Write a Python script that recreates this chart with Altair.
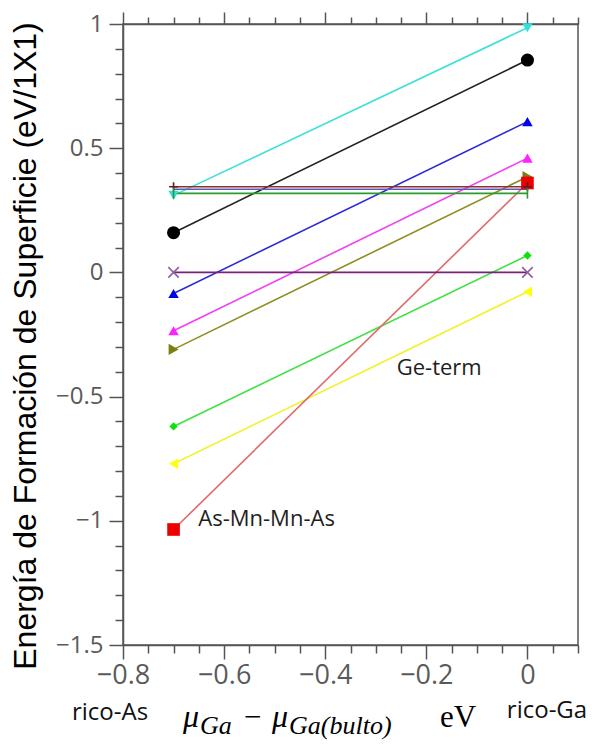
import altair as alt
import pandas as pd

# Chemical potential at the two limits (As-rich, Ga-rich)
mu_limits = [-0.7, 0.0]

# Surface formation energy (eV/1x1) of each reconstruction at both limits
series = ["S01", "S02", "S03", "S04", "S05", "S06", "S07", "S08", "S09", "S10", "S11", "S12"]
e_rico_as = [0.31, 0.16, -0.085, -0.235, -0.31, -0.62, -0.77, -1.035, 0.0, 0.345, 0.335, 0.318]
e_rico_ga = [0.985, 0.855, 0.607, 0.46, 0.385, 0.068, -0.078, 0.36, 0.0, 0.345, 0.335, 0.318]

line_colors = ["#3ee0d8", "#222222", "#2a2ad8", "#f040f0", "#8e8e20", "#40e040", "#f2f230",
               "#e06a6a", "#7a1f7a", "#8b3030", "#5a5ab8", "#2e9a2e"]
marker_colors = ["#30e0e0", "#000000", "#0000e8", "#ff20ff", "#7d7d10", "#10e010", "#ffff10",
                 "#ee0000", "#9060a0", "#5a2020", "#5a5ab8", "#2e9a2e"]
shapes = ["triangle-down", "circle", "triangle-up", "triangle-up", "triangle-right", "diamond",
          "triangle-left", "square", "x", "plus", "none", "vtick"]
marker_sizes = [110, 170, 110, 110, 130, 70, 110, 160, 110, 80, 0, 110]

# Free-text annotations inside the plot (data coordinates)
note_text = ["Ge-term", "As-Mn-Mn-As"]
note_x = [-0.1745, -0.516]
note_y = [-0.385, -0.994]

STROKE_PATHS = {
    "x": "M-1,-1L1,1M-1,1L1,-1",
    "plus": "M-1,0L1,0M0,-1L0,1",
    "vtick": "M0,-1L0,1",
}

rows = []
for i, name in enumerate(series):
    for mu, e in zip(mu_limits, [e_rico_as[i], e_rico_ga[i]]):
        rows.append({"serie": name, "mu": mu, "e": e, "lc": line_colors[i], "mc": marker_colors[i],
                     "shape": shapes[i], "sz": marker_sizes[i], "orden": i})
df = pd.DataFrame(rows)
filled = df[df["shape"].isin(["circle", "square", "diamond", "triangle-up", "triangle-down",
                              "triangle-left", "triangle-right"])]
stroked = df[df["shape"].isin(list(STROKE_PATHS))].copy()
stroked["path"] = stroked["shape"].map(STROKE_PATHS)

W, H = 455, 621
PAD_L, PAD_T = 123, 24
AXIS_COLOR = "#555555"
LABEL_COLOR = "#5a5a5a"

x_ticks = [round(-0.8 + 0.05 * k, 2) for k in range(19)]
y_ticks = [round(-1.5 + 0.1 * k, 1) for k in range(26)]

major_x = "abs(datum.value * 5 - round(datum.value * 5)) < 1e-6"
major_y = "abs(datum.value * 2 - round(datum.value * 2)) < 1e-6"

x_scale = alt.Scale(domain=[-0.8, 0.1], nice=False, zero=False)
y_scale = alt.Scale(domain=[-1.5, 1.0], nice=False, zero=False)

x_axis_bottom = alt.Axis(
    values=x_ticks, title=None, grid=False, orient="bottom",
    labelExpr=f"{major_x} ? format(datum.value, '.1~f') : ''",
    tickSize={"condition": {"test": major_x, "value": 14}, "value": 8},
    tickColor=AXIS_COLOR, tickWidth=1.5, domainColor=AXIS_COLOR, domainWidth=1.5,
    labelFont="Open Sans", labelFontSize=27, labelColor=LABEL_COLOR, labelPadding=3,
    labelFlush=False, labelOverlap=False,
)
x_axis_top = alt.Axis(
    values=x_ticks, title=None, grid=False, orient="top", labels=False,
    tickSize={"condition": {"test": major_x, "value": 12}, "value": 7},
    tickColor=AXIS_COLOR, tickWidth=1.5, domainColor=AXIS_COLOR, domainWidth=1.5,
)
y_axis = alt.Axis(
    values=y_ticks, title=None, grid=False, orient="left",
    labelExpr=f"{major_y} ? format(datum.value, '.1~f') : ''",
    tickSize={"condition": {"test": major_y, "value": 14}, "value": 8},
    tickColor=AXIS_COLOR, tickWidth=1.5, domainColor=AXIS_COLOR, domainWidth=1.5,
    labelFont="Open Sans", labelFontSize=24, labelColor=LABEL_COLOR, labelPadding=6,
    labelFlush=False, labelOverlap=False,
)

base = alt.Chart(df)

lines = base.mark_line(strokeWidth=1.6).encode(
    x=alt.X("mu:Q", scale=x_scale, axis=x_axis_bottom),
    y=alt.Y("e:Q", scale=y_scale, axis=y_axis),
    detail="serie:N",
    color=alt.Color("lc:N", scale=None),
    order="mu:Q",
)

filled_pts = alt.Chart(filled).mark_point(filled=True, opacity=1).encode(
    x=alt.X("mu:Q", scale=x_scale, axis=None),
    y=alt.Y("e:Q", scale=y_scale, axis=None),
    shape=alt.Shape("shape:N", scale=None),
    size=alt.Size("sz:Q", scale=None),
    color=alt.Color("mc:N", scale=None),
)

stroked_pts = alt.Chart(stroked).mark_point(filled=False, opacity=1, strokeWidth=1.6).encode(
    x=alt.X("mu:Q", scale=x_scale, axis=x_axis_top),
    y=alt.Y("e:Q", scale=y_scale, axis=None),
    shape=alt.Shape("path:N", scale=None),
    size=alt.Size("sz:Q", scale=None),
    color=alt.Color("mc:N", scale=None),
)

notes = alt.Chart(pd.DataFrame({"t": note_text, "x": note_x, "y": note_y})).mark_text(
    font="Open Sans", fontSize=22, color="#1e1e1e", align="center", baseline="middle"
).encode(
    x=alt.X("x:Q", scale=x_scale, axis=None),
    y=alt.Y("y:Q", scale=y_scale, axis=None),
    text="t:N",
)

# Texts placed around the frame (pixel positions relative to the plot origin)
side_labels = pd.DataFrame({
    "t": ["rico-As", "rico-Ga"],
    "px": [110 - PAD_L, 547 - PAD_L],
    "py": [713 - PAD_T, 711 - PAD_T],
})
side = alt.Chart(side_labels).mark_text(
    font="Open Sans", fontSize=24, color="#111111", align="center", baseline="middle"
).encode(
    x=alt.X("px:Q", scale=None, axis=None), y=alt.Y("py:Q", scale=None, axis=None), text="t:N"
)

y_title = alt.Chart(pd.DataFrame({"t": ["Energía de Formación de Superficie (eV/1X1)"]})).mark_text(
    font="Liberation Sans", fontSize=32, color="#000000", angle=270,
    align="center", baseline="middle"
).encode(
    x=alt.value(26 - PAD_L), y=alt.value(346 - PAD_T), text="t:N"
)

# x title:  mu_Ga - mu_Ga(bulto) eV, built from main glyphs and subscripts
title_main = pd.DataFrame({
    "t": ["μ", "μ"],
    "px": [183 - PAD_L, 272 - PAD_L],
    "py": [727 - PAD_T, 727 - PAD_T],
})
title_sub = pd.DataFrame({
    "t": ["Ga", "Ga(bulto)"],
    "px": [200 - PAD_L, 289 - PAD_L],
    "py": [734 - PAD_T, 734 - PAD_T],
})
title_up = pd.DataFrame({
    "t": ["−", "eV"],
    "px": [244 - PAD_L, 440 - PAD_L],
    "py": [727 - PAD_T, 727 - PAD_T],
})
t_main = alt.Chart(title_main).mark_text(
    font="Liberation Serif", fontStyle="italic", fontSize=32, color="#000000",
    align="left", baseline="alphabetic"
).encode(x=alt.X("px:Q", scale=None, axis=None), y=alt.Y("py:Q", scale=None, axis=None), text="t:N")
t_sub = alt.Chart(title_sub).mark_text(
    font="Liberation Serif", fontStyle="italic", fontSize=26, color="#000000",
    align="left", baseline="alphabetic"
).encode(x=alt.X("px:Q", scale=None, axis=None), y=alt.Y("py:Q", scale=None, axis=None), text="t:N")
t_up = alt.Chart(title_up).mark_text(
    font="Liberation Serif", fontSize=31, color="#000000",
    align="left", baseline="alphabetic"
).encode(x=alt.X("px:Q", scale=None, axis=None), y=alt.Y("py:Q", scale=None, axis=None), text="t:N")

chart = alt.layer(
    lines, filled_pts, stroked_pts, notes, side, y_title, t_main, t_sub, t_up
).resolve_axis(
    x="independent", y="independent"
).properties(
    width=W, height=H,
    autosize=alt.AutoSizeParams(type="none"),
    padding={"left": PAD_L, "top": PAD_T, "right": 592 - PAD_L - W, "bottom": 744 - PAD_T - H},
    background="white",
).configure_view(
    stroke=AXIS_COLOR, strokeWidth=1.5
)

chart.save("out.html", embed_options={"renderer": "svg", "actions": False})
